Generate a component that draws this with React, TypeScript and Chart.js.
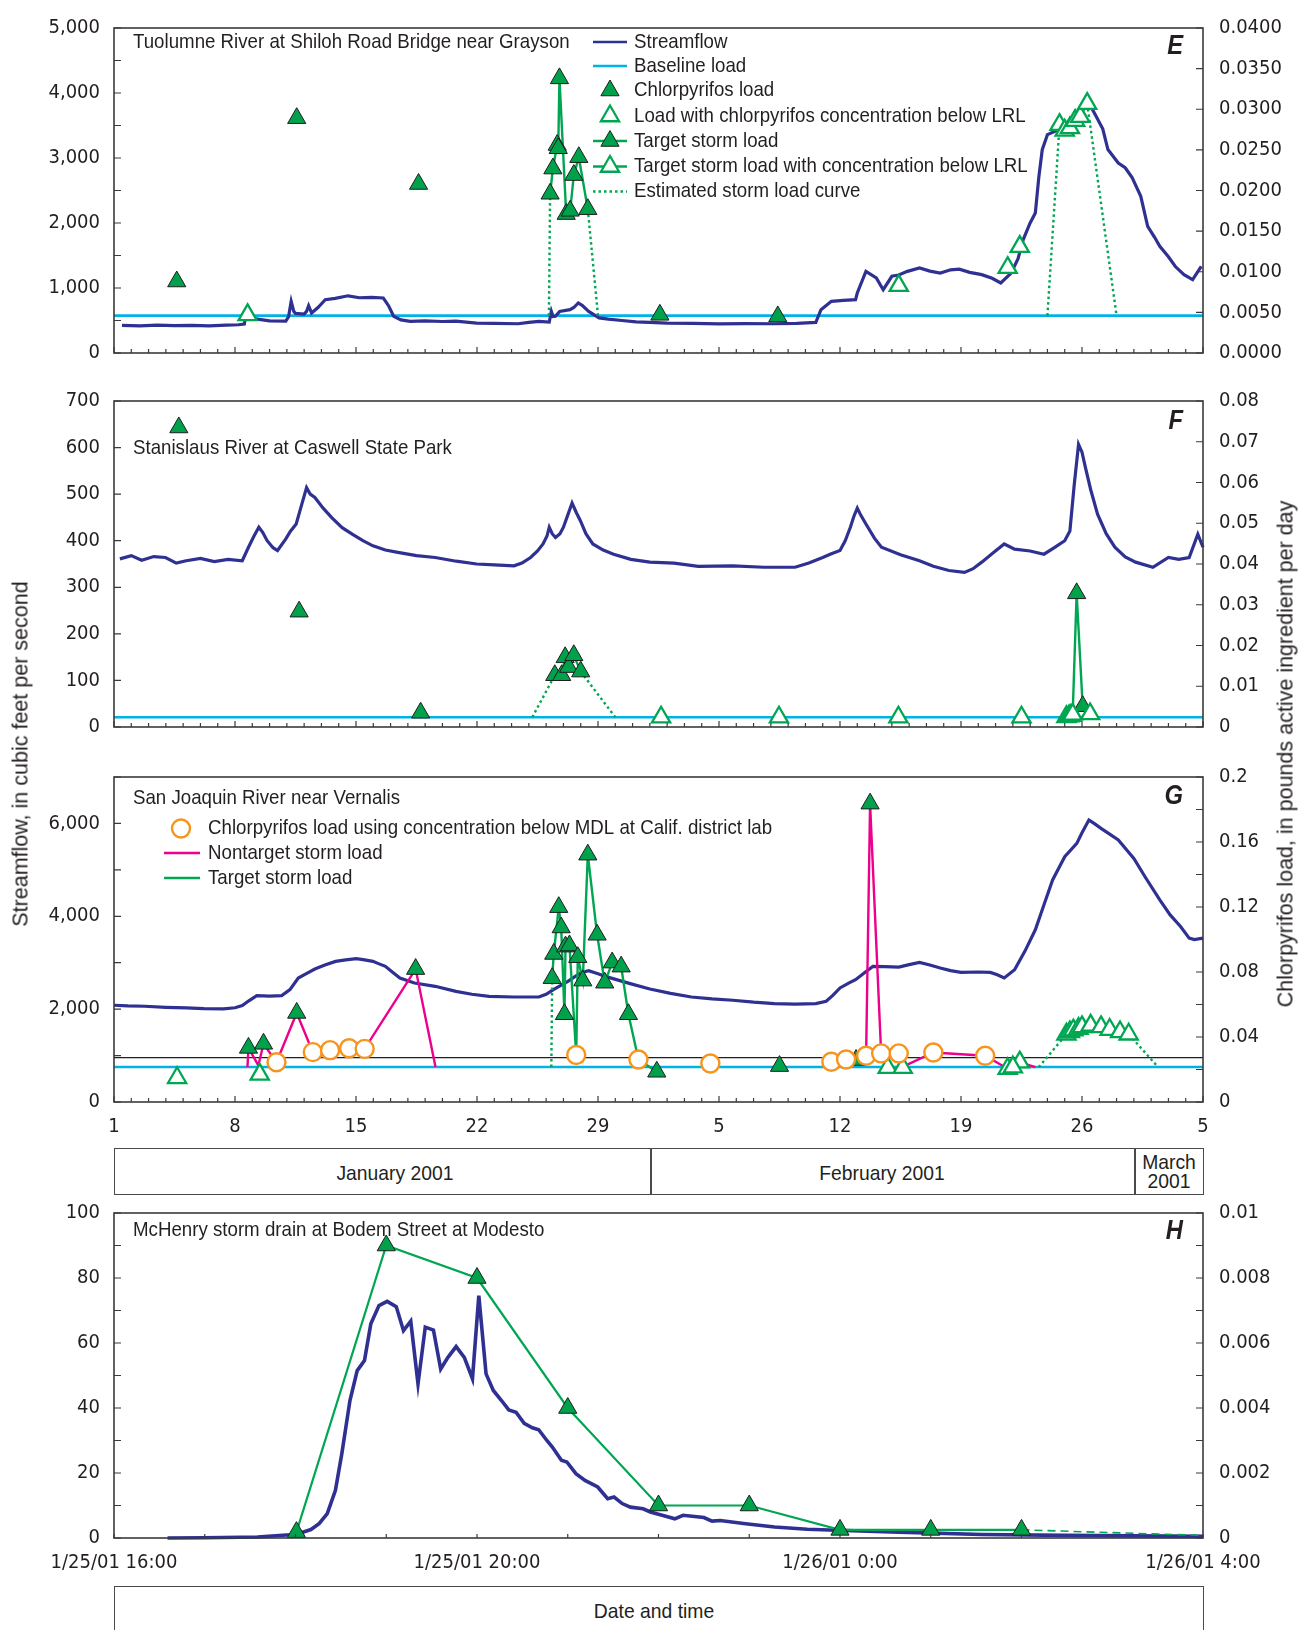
import React, { useEffect, useRef } from 'react';
import { Chart, registerables } from 'chart.js';

Chart.register(...registerables);

type Pt = [number, number];
type MPt = [number, number, string]; // f = filled triangle, o = open triangle, c = orange circle, n = no marker

const COND = "'Liberation Sans Narrow', 'Arial Narrow', 'DejaVu Sans Condensed', 'Nimbus Sans Narrow', 'Liberation Sans', sans-serif";
const SANS = "'Liberation Sans', Arial, sans-serif";
const INK = '#231f20';
const NAVY = '#2e3192';
const CYAN = '#00b2e8';
const GREEN = '#00a651';
const GREEN_FILL = '#00a14b';
const PINK = '#ec008c';
const ORANGE = '#f7941d';

// ---------- shared axes ----------
const DAY_TICKS = [0, 7, 14, 21, 28, 35, 42, 49, 56, 63];
const DAY_LABELS = ['1', '8', '15', '22', '29', '5', '12', '19', '26', '5'];
const HOUR_TICKS = [0, 4, 8, 12];
const HOUR_LABELS = ['1/25/01 16:00', '1/25/01 20:00', '1/26/01 0:00', '1/26/01 4:00'];

// ---------- panel E : Tuolumne River ----------
const E_Y_TICKS = [0, 1000, 2000, 3000, 4000, 5000];
const E_Y_LABELS = ['0', '1,000', '2,000', '3,000', '4,000', '5,000'];
const E_Y1_TICKS = [0, 0.005, 0.01, 0.015, 0.02, 0.025, 0.03, 0.035, 0.04];
const E_Y1_LABELS = ['0.0000', '0.0050', '0.0100', '0.0150', '0.0200', '0.0250', '0.0300', '0.0350', '0.0400'];
const E_FLOW: Pt[] = [
  [0.46, 425], [1.5, 418], [2.5, 428], [3.5, 420], [4.5, 425], [5.5, 418], [6.5, 430], [7.2, 435], [7.54, 445], [7.6, 545],
  [8.3, 520], [9.0, 495], [9.94, 490], [10.1, 560], [10.25, 795], [10.4, 640], [10.5, 610], [11.0, 600], [11.14, 640],
  [11.26, 728], [11.43, 615], [11.8, 700], [12.22, 820], [12.8, 840], [13.54, 880], [14.2, 850], [14.9, 855], [15.58, 846],
  [15.9, 720], [16.18, 564], [16.6, 510], [17.14, 487], [18.0, 495], [19.0, 485], [19.78, 490], [20.98, 460], [22.0, 455],
  [23.38, 450], [24.0, 470], [24.58, 487], [25.18, 477], [25.3, 640], [25.4, 560], [25.54, 564], [25.78, 640], [26.38, 667],
  [26.6, 700], [26.86, 770], [27.1, 730], [27.46, 640], [28.06, 540], [28.6, 520], [29.38, 500], [30.2, 480], [31.0, 472],
  [32.0, 460], [33.5, 455], [35.0, 448], [36.5, 452], [38.2, 450], [39.5, 455], [40.6, 470], [40.9, 667], [41.5, 795],
  [42.2, 810], [42.9, 820], [43.0, 923], [43.5, 1256], [44.1, 1154], [44.5, 974], [45.0, 1180], [45.4, 1200], [45.9, 1256],
  [46.6, 1308], [47.2, 1260], [47.8, 1230], [48.4, 1280], [48.9, 1290], [49.5, 1240], [50.2, 1205], [50.8, 1150],
  [51.3, 1077], [51.9, 1230], [52.3, 1450], [52.6, 1744], [53.0, 2000], [53.3, 2154], [53.5, 2700], [53.7, 3128],
  [54.0, 3359], [54.5, 3420], [55.0, 3462], [55.5, 3600], [55.9, 3744], [56.3, 3897], [56.8, 3650], [57.2, 3450],
  [57.5, 3130], [58.1, 2923], [58.5, 2850], [58.9, 2700], [59.4, 2410], [59.8, 1949], [60.2, 1780], [60.5, 1641],
  [61.0, 1480], [61.4, 1330], [61.9, 1205], [62.4, 1128], [62.9, 1333],
];
const E_BASELINE = 0.0046;
const E_LOAD: Pt[] = [[3.63, 0.0088], [10.57, 0.0289], [17.62, 0.0208], [31.58, 0.0047], [38.4, 0.0045]];
const E_LOAD_LRL: Pt[] = [[7.73, 0.0047], [45.4, 0.0083], [51.7, 0.0105], [52.4, 0.0131]];
const E_STORM_JAN: Pt[] = [
  [25.23, 0.0196], [25.39, 0.0227], [25.64, 0.0256], [25.7, 0.0252], [25.77, 0.0338], [26.16, 0.0171],
  [26.39, 0.0175], [26.6, 0.0219], [26.89, 0.0241], [27.41, 0.0177],
];
const E_STORM_FEB_LRL: Pt[] = [[54.7, 0.0281], [55.0, 0.0274], [55.3, 0.0277], [55.6, 0.0286], [55.9, 0.0291], [56.3, 0.0307]];
const E_EST_JAN_RISE: Pt[] = [[25.16, 0.0046], [25.23, 0.0196]];
const E_EST_JAN_FALL: Pt[] = [[27.41, 0.0177], [28.0, 0.0046]];
const E_EST_FEB_RISE: Pt[] = [[54.0, 0.0046], [54.7, 0.0281]];
const E_EST_FEB_FALL: Pt[] = [[56.3, 0.0307], [58.0, 0.0046]];
const E_LEGEND = [
  'Streamflow', 'Baseline load', 'Chlorpyrifos load', 'Load with chlorpyrifos concentration below LRL',
  'Target storm load', 'Target storm load with concentration below LRL', 'Estimated storm load curve',
];

// ---------- panel F : Stanislaus River ----------
const F_Y_TICKS = [0, 100, 200, 300, 400, 500, 600, 700];
const F_Y_LABELS = ['0', '100', '200', '300', '400', '500', '600', '700'];
const F_Y1_TICKS = [0, 0.01, 0.02, 0.03, 0.04, 0.05, 0.06, 0.07, 0.08];
const F_Y1_LABELS = ['0', '0.01', '0.02', '0.03', '0.04', '0.05', '0.06', '0.07', '0.08'];
const F_FLOW: Pt[] = [
  [0.34, 361], [1.0, 368], [1.6, 358], [2.3, 366], [2.98, 364], [3.6, 352], [4.18, 357], [5.0, 362], [5.8, 355], [6.6, 360],
  [7.42, 357], [7.78, 386], [8.1, 410], [8.38, 429], [8.6, 418], [8.86, 400], [9.2, 385], [9.46, 379], [9.94, 404],
  [10.2, 420], [10.54, 436], [10.8, 470], [11.14, 514], [11.35, 500], [11.62, 493], [12.1, 470], [12.58, 450], [13.2, 428],
  [13.78, 414], [14.4, 400], [14.98, 389], [15.7, 380], [16.42, 375], [17.5, 368], [18.58, 364], [19.8, 356], [20.98, 350],
  [22.0, 348], [23.14, 346], [23.6, 352], [24.1, 364], [24.5, 378], [24.82, 393], [25.05, 410], [25.18, 429], [25.35, 415],
  [25.54, 407], [25.8, 415], [26.0, 429], [26.25, 455], [26.5, 481], [26.75, 460], [26.98, 443], [27.3, 415], [27.7, 393],
  [28.3, 380], [28.9, 371], [29.9, 360], [31.0, 354], [32.4, 352], [33.8, 345], [35.8, 346], [37.6, 343], [39.4, 343],
  [40.2, 352], [41.0, 364], [41.5, 372], [42.0, 379], [42.3, 400], [42.6, 429], [42.8, 452], [43.0, 470], [43.2, 455],
  [43.5, 436], [44.0, 405], [44.4, 386], [45.5, 370], [46.6, 357], [47.4, 345], [48.3, 336], [49.2, 332], [49.7, 340],
  [50.2, 354], [50.9, 375], [51.5, 393], [52.1, 382], [53.0, 378], [53.8, 371], [54.4, 385], [55.0, 400], [55.3, 421],
  [55.55, 520], [55.8, 607], [56.0, 590], [56.2, 557], [56.5, 510], [56.9, 457], [57.4, 415], [57.9, 386], [58.5, 365],
  [59.1, 354], [60.1, 343], [61.0, 364], [61.6, 360], [62.2, 364], [62.7, 414], [63.0, 386],
];
const F_BASELINE = 0.0024;
const F_LOAD: Pt[] = [[3.75, 0.0735], [10.71, 0.0283], [17.74, 0.0035]];
const F_LOAD_LRL: Pt[] = [[31.65, 0.0024], [38.47, 0.0024], [45.38, 0.0024], [52.5, 0.0024]];
const F_STORM_JAN: Pt[] = [[25.5, 0.0127], [25.9, 0.0127], [26.1, 0.0171], [26.3, 0.0147], [26.6, 0.0176], [27.0, 0.0136]];
const F_EST_JAN_RISE: Pt[] = [[24.2, 0.0024], [25.5, 0.0127]];
const F_EST_JAN_FALL: Pt[] = [[27.0, 0.0136], [29.0, 0.0024]];
const F_STORM_FEB: MPt[] = [
  [55.1, 0.0025, 'o'], [55.25, 0.0027, 'o'], [55.35, 0.0028, 'o'], [55.46, 0.0031, 'o'],
  [55.69, 0.0328, 'f'], [56.04, 0.0051, 'f'], [56.47, 0.0032, 'o'],
];

// ---------- panel G : San Joaquin River ----------
const G_Y_TICKS = [0, 2000, 4000, 6000];
const G_Y_LABELS = ['0', '2,000', '4,000', '6,000'];
const G_Y1_TICKS = [0, 0.04, 0.08, 0.12, 0.16, 0.2];
const G_Y1_LABELS = ['0', '0.04', '0.08', '0.12', '0.16', '0.2'];
const G_FLOW: Pt[] = [
  [0, 2084], [0.8, 2070], [1.78, 2062], [3.0, 2040], [4.18, 2026], [5.2, 2010], [6.34, 2005], [7.0, 2030], [7.42, 2076],
  [7.8, 2180], [8.26, 2291], [9.0, 2280], [9.7, 2291], [10.18, 2420], [10.66, 2671], [11.1, 2760], [11.62, 2864],
  [12.2, 2950], [12.82, 3029], [13.4, 3060], [14.02, 3086], [14.5, 3060], [14.98, 3029], [15.3, 2980], [15.7, 2921],
  [16.1, 2800], [16.54, 2671], [17.38, 2563], [18.58, 2492], [19.78, 2384], [20.7, 2320], [21.7, 2277], [23.14, 2262],
  [24.58, 2262], [25.0, 2320], [25.42, 2420], [26.26, 2599], [26.98, 2778], [27.46, 2828], [28.0, 2760], [28.42, 2706],
  [29.86, 2549], [31.0, 2434], [32.2, 2340], [33.4, 2262], [34.6, 2220], [35.8, 2191], [37.0, 2150], [38.2, 2119],
  [39.4, 2110], [40.6, 2119], [41.2, 2170], [41.6, 2300], [42.0, 2456], [42.5, 2560], [42.9, 2635], [43.4, 2780],
  [43.9, 2921], [44.6, 2915], [45.4, 2907], [46.0, 2960], [46.6, 3007], [47.2, 2950], [47.8, 2885], [48.4, 2830],
  [49.0, 2792], [50.0, 2800], [50.7, 2792], [51.1, 2740], [51.5, 2671], [52.1, 2850], [52.7, 3250], [53.3, 3709],
  [53.8, 4250], [54.3, 4783], [55.0, 5284], [55.7, 5570], [56.0, 5800], [56.4, 6072], [56.7, 6000], [57.1, 5893],
  [57.6, 5770], [58.1, 5642], [59.0, 5248], [59.7, 4820], [60.5, 4353], [61.1, 4030], [61.7, 3781], [62.2, 3530],
  [62.5, 3500], [63.0, 3530],
];
const G_BASELINE = 0.0215;
const G_REFERENCE_LINE = 0.0273;
const G_LOAD: Pt[] = [[38.5, 0.0221], [42.93, 0.0258]];
const G_LOAD_LRL: Pt[] = [[3.65, 0.0149], [8.43, 0.017], [44.76, 0.0211], [45.63, 0.0211], [52.0, 0.0215]];
const G_LOAD_MDL: Pt[] = [[34.5, 0.0237], [41.5, 0.0248], [42.35, 0.0262]];
const G_NONTARGET_JAN: MPt[] = [
  [7.72, 0.0215, 'n'], [7.78, 0.0333, 'f'], [8.35, 0.0225, 'n'], [8.65, 0.0358, 'f'], [9.4, 0.0245, 'c'],
  [10.57, 0.0548, 'f'], [11.5, 0.0307, 'c'], [12.5, 0.0319, 'c'], [13.6, 0.0331, 'c'], [14.5, 0.0327, 'c'],
  [17.45, 0.0818, 'f'], [18.6, 0.0215, 'n'],
];
const G_NONTARGET_FEB: MPt[] = [
  [43.51, 0.0285, 'c'], [43.74, 0.1836, 'f'], [44.38, 0.0299, 'c'], [45.4, 0.0299, 'c'], [45.8, 0.0225, 'n'],
  [47.4, 0.0305, 'c'], [50.4, 0.0285, 'c'], [51.7, 0.0205, 'o'], [52.4, 0.0245, 'o'], [53.3, 0.0215, 'n'],
];
const G_STORM_JAN: MPt[] = [
  [25.35, 0.0762, 'f'], [25.44, 0.0911, 'f'], [25.73, 0.1199, 'f'], [25.87, 0.1074, 'f'], [26.06, 0.054, 'f'],
  [26.12, 0.0956, 'f'], [26.35, 0.0963, 'f'], [26.74, 0.0289, 'c'], [26.83, 0.0891, 'f'], [27.12, 0.0747, 'f'],
  [27.41, 0.1522, 'f'], [27.95, 0.1029, 'f'], [28.39, 0.0734, 'f'], [28.82, 0.0858, 'f'], [29.34, 0.0833, 'f'],
  [29.76, 0.054, 'f'], [30.34, 0.0262, 'c'], [31.4, 0.0186, 'f'],
];
const G_STORM_FEB_LRL: Pt[] = [
  [55.1, 0.0417], [55.3, 0.0431], [55.5, 0.0442], [55.8, 0.0452], [56.0, 0.0462], [56.5, 0.0472], [57.1, 0.0462],
  [57.6, 0.0446], [58.2, 0.0431], [58.7, 0.0417],
];
const G_EST_JAN_RISE: Pt[] = [[25.3, 0.0215], [25.35, 0.0762]];
const G_EST_FEB_RISE: Pt[] = [[53.5, 0.0215], [55.1, 0.0417]];
const G_EST_FEB_FALL: Pt[] = [[58.7, 0.0417], [60.4, 0.0215]];
const G_LEGEND = ['Chlorpyrifos load using concentration below MDL at Calif. district lab', 'Nontarget storm load', 'Target storm load'];

// ---------- panel H : McHenry storm drain ----------
const H_Y_TICKS = [0, 20, 40, 60, 80, 100];
const H_Y_LABELS = ['0', '20', '40', '60', '80', '100'];
const H_Y1_TICKS = [0, 0.002, 0.004, 0.006, 0.008, 0.01];
const H_Y1_LABELS = ['0', '0.002', '0.004', '0.006', '0.008', '0.01'];
const H_FLOW: Pt[] = [
  [0.59, 0], [1.0, 0.1], [1.58, 0.3], [1.94, 1.0], [2.08, 1.8], [2.17, 2.6], [2.26, 4.4], [2.35, 7.5], [2.44, 14.7],
  [2.51, 25.9], [2.6, 42.3], [2.68, 51.5], [2.76, 54.6], [2.83, 65.9], [2.92, 71.5], [3.01, 72.8], [3.11, 71.2],
  [3.19, 63.8], [3.27, 66.7], [3.35, 47.4], [3.43, 64.9], [3.52, 64.0], [3.6, 52.0], [3.68, 55.6], [3.77, 58.9],
  [3.86, 55.6], [3.95, 49.0], [4.02, 74.6], [4.1, 50.5], [4.18, 45.4], [4.27, 42.3], [4.35, 39.4], [4.43, 38.7],
  [4.52, 35.3], [4.61, 33.9], [4.68, 33.3], [4.77, 30.0], [4.83, 28.0], [4.93, 23.9], [4.99, 23.4], [5.09, 19.8],
  [5.19, 17.7], [5.33, 15.7], [5.44, 12.1], [5.51, 12.6], [5.6, 10.6], [5.69, 9.5], [5.83, 9.0], [5.91, 8.0],
  [6.04, 7.0], [6.18, 5.9], [6.27, 7.0], [6.5, 6.3], [6.59, 5.2], [6.68, 5.4], [6.96, 4.4], [7.28, 3.4], [7.64, 2.7],
  [7.96, 2.4], [8.65, 1.8], [9.56, 1.1], [10.48, 0.8], [12.0, 0.5],
];
const H_STORM: Pt[] = [
  [2.01, 0.00018], [3.0, 0.009], [4.0, 0.008], [5.0, 0.004], [6.0, 0.001], [7.0, 0.001], [8.0, 0.00025],
  [9.0, 0.00025], [10.0, 0.00025],
];
const H_STORM_TAIL: Pt[] = [[10.0, 0.00025], [12.0, 0.00008]];

// ---------- helpers ----------
const xy = (a: Pt[]) => a.map(([x, y]) => ({ x, y }));
const tag = (a: Pt[], k: string): MPt[] => a.map(([x, y]) => [x, y, k]);
const strip = (a: MPt[]): Pt[] => a.map(([x, y]) => [x, y]);

function line(data: Pt[], color: string, width: number, yAxisID: string, order: number, dash: number[] = []) {
  return {
    data: xy(data), showLine: true, borderColor: color, borderWidth: width, borderDash: dash,
    pointRadius: 0, tension: 0, fill: false, yAxisID, order, clip: false,
  };
}

function markerSets(pts: MPt[], yAxisID = 'y1') {
  const out: any[] = [];
  const pick = (k: string) => pts.filter((p) => p[2] === k).map((p) => ({ x: p[0], y: p[1] }));
  const f = pick('f'), o = pick('o'), c = pick('c');
  if (f.length) out.push({ data: f, showLine: false, pointStyle: 'triangle', pointRadius: 10.5, pointBackgroundColor: GREEN_FILL, pointBorderColor: '#1e1e1e', pointBorderWidth: 1, yAxisID, order: 2, clip: false });
  if (o.length) out.push({ data: o, showLine: false, pointStyle: 'triangle', pointRadius: 10.5, pointBackgroundColor: '#ffffff', pointBorderColor: GREEN, pointBorderWidth: 2.3, yAxisID, order: 1, clip: false });
  if (c.length) out.push({ data: c, showLine: false, pointStyle: 'circle', pointRadius: 9, pointBackgroundColor: '#ffffff', pointBorderColor: ORANGE, pointBorderWidth: 2.4, yAxisID, order: 0, clip: false });
  return out;
}

function flat(value: number, max: number): Pt[] {
  return [[0, value], [max, value]];
}

function tri(ctx: CanvasRenderingContext2D, x: number, y: number, r: number, filled: boolean) {
  ctx.beginPath();
  for (let k = 0; k < 3; k++) {
    const a = (k * 2 * Math.PI) / 3;
    const px = x + Math.sin(a) * r;
    const py = y - Math.cos(a) * r;
    if (k === 0) ctx.moveTo(px, py); else ctx.lineTo(px, py);
  }
  ctx.closePath();
  if (filled) {
    ctx.fillStyle = GREEN_FILL; ctx.fill(); ctx.strokeStyle = '#1e1e1e'; ctx.lineWidth = 1; ctx.stroke();
  } else {
    ctx.fillStyle = '#fff'; ctx.fill(); ctx.strokeStyle = GREEN; ctx.lineWidth = 2.3; ctx.stroke();
  }
}

function seg(ctx: CanvasRenderingContext2D, x1: number, x2: number, y: number, color: string, w: number, dash: number[] = []) {
  ctx.save();
  ctx.beginPath(); ctx.setLineDash(dash); ctx.strokeStyle = color; ctx.lineWidth = w;
  ctx.moveTo(x1, y); ctx.lineTo(x2, y); ctx.stroke();
  ctx.restore();
}

// condensed text: a regular face squeezed horizontally to mimic the narrow face of the original
function text(ctx: CanvasRenderingContext2D, s: string, x: number, y: number, font: string, align: CanvasTextAlign = 'left', sx = 0.89) {
  ctx.save();
  ctx.translate(x, y);
  ctx.scale(sx, 1);
  ctx.font = font; ctx.fillStyle = INK; ctx.textAlign = align; ctx.textBaseline = 'middle';
  ctx.fillText(s, 0, 0);
  ctx.restore();
}

const TXT = `21px ${SANS}`;
const LETTER = `italic bold 28px ${SANS}`;

function range(step: number, max: number) {
  const out: number[] = [];
  for (let v = 0; v <= max + 1e-9; v += step) out.push(Math.round(v * 1e6) / 1e6);
  return out;
}

interface PanelSpec {
  padTop: number;
  xMax: number; xTicks: number[]; xLabels: string[]; xHeight: number; showX: boolean; xMinor: number[]; xMajor: number[];
  yMax: number; yTicks: number[]; yLabels: string[]; yMinor: number[];
  y1Max: number; y1Ticks: number[]; y1Labels: string[]; y1Minor: number[];
  datasets: any[];
  draw: (ctx: CanvasRenderingContext2D) => void;
}

function yAxis(pos: 'left' | 'right', max: number, ticks: number[], labels: string[], width: number, padding: number) {
  return {
    type: 'linear', position: pos, min: 0, max,
    grid: { display: false, drawTicks: false }, border: { display: false },
    afterBuildTicks: (s: any) => { s.ticks = ticks.map((v) => ({ value: v })); },
    afterFit: (s: any) => { s.width = width; },
    ticks: { padding, color: INK, font: { family: COND, size: 20 }, callback: (_v: any, i: number) => labels[i] },
  };
}

function makeConfig(p: PanelSpec): any {
  const frame = {
    id: 'frame',
    afterDatasetsDraw(chart: any) {
      const { ctx, chartArea: a, scales } = chart;
      ctx.save();
      ctx.strokeStyle = '#3b3b3b';
      ctx.lineWidth = 1.6;
      ctx.strokeRect(a.left, a.top, a.right - a.left, a.bottom - a.top);
      ctx.beginPath();
      ctx.lineWidth = 1.2;
      for (const v of p.xMinor) {
        const x = scales.x.getPixelForValue(v);
        const len = p.xMajor.includes(v) ? 6 : 4;
        ctx.moveTo(x, a.bottom); ctx.lineTo(x, a.bottom - len);
      }
      for (const v of p.yMinor) {
        const y = scales.y.getPixelForValue(v);
        ctx.moveTo(a.left, y); ctx.lineTo(a.left + 7, y);
      }
      for (const v of p.y1Minor) {
        const y = scales.y1.getPixelForValue(v);
        ctx.moveTo(a.right, y); ctx.lineTo(a.right - 7, y);
      }
      ctx.stroke();
      ctx.restore();
    },
    afterDraw(chart: any) { p.draw(chart.ctx); },
  };
  return {
    type: 'scatter',
    data: { datasets: p.datasets },
    options: {
      animation: false, responsive: false, devicePixelRatio: 1, events: [],
      layout: { padding: { top: p.padTop, left: 0, right: 0, bottom: 0 } },
      plugins: { legend: { display: false }, tooltip: { enabled: false } },
      scales: {
        x: {
          type: 'linear', position: 'bottom', min: 0, max: p.xMax,
          grid: { display: false, drawTicks: false }, border: { display: false },
          afterBuildTicks: (s: any) => { s.ticks = p.xTicks.map((v) => ({ value: v })); },
          afterFit: (s: any) => { s.height = p.xHeight; },
          ticks: { display: p.showX, autoSkip: false, maxRotation: 0, padding: 13, color: INK, font: { family: COND, size: 20 }, callback: (_v: any, i: number) => p.xLabels[i] },
        },
        y: yAxis('left', p.yMax, p.yTicks, p.yLabels, 114, 14),
        y1: yAxis('right', p.y1Max, p.y1Ticks, p.y1Labels, 99, 16),
      },
    },
    plugins: [frame],
  };
}

const DAY_MINOR = range(1, 63);
const FLOW_W = 3.2;

// canvas placements (page px): chart area E 27-353, F 400-727, G 776-1102, H 1212-1538
const E_CANVAS = { top: 0, height: 383 };
const F_CANVAS = { top: 373, height: 384 };
const G_CANVAS = { top: 749, height: 403 };
const H_CANVAS = { top: 1185, height: 398 };

function buildE() {
  return makeConfig({
    padTop: 27, xMax: 63, xTicks: DAY_TICKS, xLabels: DAY_LABELS, xHeight: 30, showX: false, xMinor: DAY_MINOR, xMajor: DAY_TICKS,
    yMax: 5000, yTicks: E_Y_TICKS, yLabels: E_Y_LABELS, yMinor: range(500, 5000),
    y1Max: 0.04, y1Ticks: E_Y1_TICKS, y1Labels: E_Y1_LABELS, y1Minor: E_Y1_TICKS,
    datasets: [
      line(flat(E_BASELINE, 63), CYAN, 2.6, 'y1', 9),
      line(E_FLOW, NAVY, FLOW_W, 'y', 8),
      line(E_EST_JAN_RISE, GREEN, 2.4, 'y1', 5, [2.5, 3]),
      line(E_EST_JAN_FALL, GREEN, 2.4, 'y1', 5, [2.5, 3]),
      line(E_EST_FEB_RISE, GREEN, 2.4, 'y1', 5, [2.5, 3]),
      line(E_EST_FEB_FALL, GREEN, 2.4, 'y1', 5, [2.5, 3]),
      line(E_STORM_JAN, GREEN, 2.4, 'y1', 4),
      line(E_STORM_FEB_LRL, GREEN, 2.4, 'y1', 4),
      ...markerSets(tag(E_LOAD, 'f')),
      ...markerSets(tag(E_LOAD_LRL, 'o')),
      ...markerSets(tag(E_STORM_JAN, 'f')),
      ...markerSets(tag(E_STORM_FEB_LRL, 'o')),
    ],
    draw: (ctx) => {
      const t = E_CANVAS.top;
      text(ctx, 'Tuolumne River at Shiloh Road Bridge near Grayson', 133, 42.5 - t, TXT);
      text(ctx, 'E', 1183, 46.5 - t, LETTER, 'right', 0.85);
      const ys = [42, 66, 90.5, 116, 141, 166.5, 191.5].map((y) => y - t);
      const x1 = 593, x2 = 627, xm = 610, xt = 634;
      seg(ctx, x1, x2, ys[0], NAVY, 2.6);
      seg(ctx, x1, x2, ys[1], CYAN, 2.6);
      tri(ctx, xm, ys[2], 10.5, true);
      tri(ctx, xm, ys[3], 10.5, false);
      seg(ctx, x1, x2, ys[4], GREEN, 2.4); tri(ctx, xm, ys[4], 10.5, true);
      seg(ctx, x1, x2, ys[5], GREEN, 2.4); tri(ctx, xm, ys[5], 10.5, false);
      seg(ctx, x1, x2, ys[6], GREEN, 2.4, [2.5, 3]);
      E_LEGEND.forEach((s, i) => text(ctx, s, xt, ys[i], TXT));
    },
  });
}

function buildF() {
  return makeConfig({
    padTop: 27, xMax: 63, xTicks: DAY_TICKS, xLabels: DAY_LABELS, xHeight: 30, showX: false, xMinor: DAY_MINOR, xMajor: DAY_TICKS,
    yMax: 700, yTicks: F_Y_TICKS, yLabels: F_Y_LABELS, yMinor: F_Y_TICKS,
    y1Max: 0.08, y1Ticks: F_Y1_TICKS, y1Labels: F_Y1_LABELS, y1Minor: F_Y1_TICKS,
    datasets: [
      line(flat(F_BASELINE, 63), CYAN, 2.6, 'y1', 9),
      line(F_FLOW, NAVY, FLOW_W, 'y', 8),
      line(F_EST_JAN_RISE, GREEN, 2.4, 'y1', 5, [2.5, 3]),
      line(F_EST_JAN_FALL, GREEN, 2.4, 'y1', 5, [2.5, 3]),
      line(F_STORM_JAN, GREEN, 2.4, 'y1', 4),
      line(strip(F_STORM_FEB), GREEN, 2.4, 'y1', 4),
      ...markerSets(tag(F_LOAD, 'f')),
      ...markerSets(tag(F_LOAD_LRL, 'o')),
      ...markerSets(tag(F_STORM_JAN, 'f')),
      ...markerSets(F_STORM_FEB),
    ],
    draw: (ctx) => {
      const t = F_CANVAS.top;
      text(ctx, 'Stanislaus River at Caswell State Park', 133, 448.5 - t, TXT);
      text(ctx, 'F', 1183, 421 - t, LETTER, 'right', 0.85);
    },
  });
}

function buildG() {
  return makeConfig({
    padTop: 27, xMax: 63, xTicks: DAY_TICKS, xLabels: DAY_LABELS, xHeight: 50, showX: true, xMinor: DAY_MINOR, xMajor: DAY_TICKS,
    yMax: 7000, yTicks: G_Y_TICKS, yLabels: G_Y_LABELS, yMinor: range(1000, 7000),
    y1Max: 0.2, y1Ticks: G_Y1_TICKS, y1Labels: G_Y1_LABELS, y1Minor: range(0.02, 0.2),
    datasets: [
      line(flat(G_BASELINE, 63), CYAN, 2.6, 'y1', 9),
      line(flat(G_REFERENCE_LINE, 63), INK, 1.4, 'y1', 9),
      line(G_FLOW, NAVY, FLOW_W, 'y', 8),
      line(G_EST_JAN_RISE, GREEN, 2.4, 'y1', 5, [2.5, 3]),
      line(G_EST_FEB_RISE, GREEN, 2.4, 'y1', 5, [2.5, 3]),
      line(G_EST_FEB_FALL, GREEN, 2.4, 'y1', 5, [2.5, 3]),
      line(strip(G_NONTARGET_JAN), PINK, 2.4, 'y1', 4),
      line(strip(G_NONTARGET_FEB), PINK, 2.4, 'y1', 4),
      line(strip(G_STORM_JAN), GREEN, 2.4, 'y1', 4),
      line(G_STORM_FEB_LRL, GREEN, 2.4, 'y1', 4),
      ...markerSets(tag(G_LOAD, 'f')),
      ...markerSets(tag(G_LOAD_LRL, 'o')),
      ...markerSets(tag(G_LOAD_MDL, 'c')),
      ...markerSets(G_NONTARGET_JAN),
      ...markerSets(G_NONTARGET_FEB),
      ...markerSets(G_STORM_JAN),
      ...markerSets(tag(G_STORM_FEB_LRL, 'o')),
    ],
    draw: (ctx) => {
      const t = G_CANVAS.top;
      text(ctx, 'San Joaquin River near Vernalis', 133, 798.5 - t, TXT);
      text(ctx, 'G', 1183, 796 - t, LETTER, 'right', 0.85);
      const ys = [828.5, 853, 878].map((y) => y - t);
      ctx.save();
      ctx.beginPath(); ctx.arc(181, ys[0], 9, 0, Math.PI * 2);
      ctx.fillStyle = '#fff'; ctx.fill(); ctx.strokeStyle = ORANGE; ctx.lineWidth = 2.4; ctx.stroke();
      ctx.restore();
      seg(ctx, 164, 200, ys[1], PINK, 2.4);
      seg(ctx, 164, 200, ys[2], GREEN, 2.4);
      G_LEGEND.forEach((s, i) => text(ctx, s, 208, ys[i], TXT));
    },
  });
}

function buildH() {
  return makeConfig({
    padTop: 27, xMax: 12, xTicks: HOUR_TICKS, xLabels: HOUR_LABELS, xHeight: 45, showX: true, xMinor: range(1, 12), xMajor: [],
    yMax: 100, yTicks: H_Y_TICKS, yLabels: H_Y_LABELS, yMinor: range(10, 100),
    y1Max: 0.01, y1Ticks: H_Y1_TICKS, y1Labels: H_Y1_LABELS, y1Minor: range(0.001, 0.01),
    datasets: [
      line(H_FLOW, NAVY, 3.6, 'y', 8),
      line(H_STORM, GREEN, 2.2, 'y1', 4),
      line(H_STORM_TAIL, GREEN, 1.6, 'y1', 4, [8, 5]),
      ...markerSets(tag(H_STORM, 'f')),
    ],
    draw: (ctx) => {
      const t = H_CANVAS.top;
      text(ctx, 'McHenry storm drain at Bodem Street at Modesto', 133, 1230.5 - t, TXT);
      text(ctx, 'H', 1183, 1231.5 - t, LETTER, 'right', 0.85);
    },
  });
}

const abs = (left: number, top: number, extra: React.CSSProperties = {}): React.CSSProperties => ({ position: 'absolute', left, top, ...extra });

export default function App() {
  const eRef = useRef<HTMLCanvasElement>(null);
  const fRef = useRef<HTMLCanvasElement>(null);
  const gRef = useRef<HTMLCanvasElement>(null);
  const hRef = useRef<HTMLCanvasElement>(null);

  useEffect(() => {
    const charts = [
      new Chart(eRef.current!, buildE()),
      new Chart(fRef.current!, buildF()),
      new Chart(gRef.current!, buildG()),
      new Chart(hRef.current!, buildH()),
    ];
    return () => charts.forEach((c) => c.destroy());
  }, []);

  const labelFont: React.CSSProperties = { fontFamily: SANS, fontSize: 21, color: INK, whiteSpace: 'nowrap', lineHeight: '21px' };
  const squeeze = 'translate(-50%, -50%) scaleX(0.92)';
  const box: React.CSSProperties = { border: '1.5px solid #4a4a4a', boxSizing: 'border-box', background: '#fff' };

  return (
    <div style={{ position: 'absolute', left: 0, top: 0, width: 1302, height: 1630, background: '#fff', overflow: 'hidden' }}>
      <canvas ref={eRef} width={1302} height={E_CANVAS.height} style={abs(0, E_CANVAS.top)} />
      <canvas ref={fRef} width={1302} height={F_CANVAS.height} style={abs(0, F_CANVAS.top)} />
      <canvas ref={gRef} width={1302} height={G_CANVAS.height} style={abs(0, G_CANVAS.top)} />
      <canvas ref={hRef} width={1302} height={H_CANVAS.height} style={abs(0, H_CANVAS.top)} />

      {/* month boxes */}
      <div style={abs(114, 1148, { ...box, width: 1090, height: 47 })} />
      <div style={abs(650, 1148, { width: 1.5, height: 47, background: '#4a4a4a' })} />
      <div style={abs(1134, 1148, { width: 1.5, height: 47, background: '#4a4a4a' })} />
      <div style={abs(395, 1172, { ...labelFont, transform: squeeze })}>January 2001</div>
      <div style={abs(882, 1172, { ...labelFont, transform: squeeze })}>February 2001</div>
      <div style={abs(1169, 1171, { ...labelFont, textAlign: 'center', transform: squeeze, lineHeight: '19px' })}>March<br />2001</div>

      {/* date and time box */}
      <div style={abs(114, 1586, { ...box, width: 1090, height: 60 })} />
      <div style={abs(654, 1610, { ...labelFont, transform: squeeze })}>Date and time</div>

      {/* axis titles */}
      <div style={abs(21, 754, { fontFamily: SANS, fontSize: 21.5, color: INK, whiteSpace: 'nowrap', transform: 'translate(-50%, -50%) rotate(-90deg)' })}>
        Streamflow, in cubic feet per second
      </div>
      <div style={abs(1286, 754, { fontFamily: SANS, fontSize: 21.5, color: INK, whiteSpace: 'nowrap', transform: 'translate(-50%, -50%) rotate(-90deg)' })}>
        Chlorpyrifos load, in pounds active ingredient per day
      </div>
    </div>
  );
}
